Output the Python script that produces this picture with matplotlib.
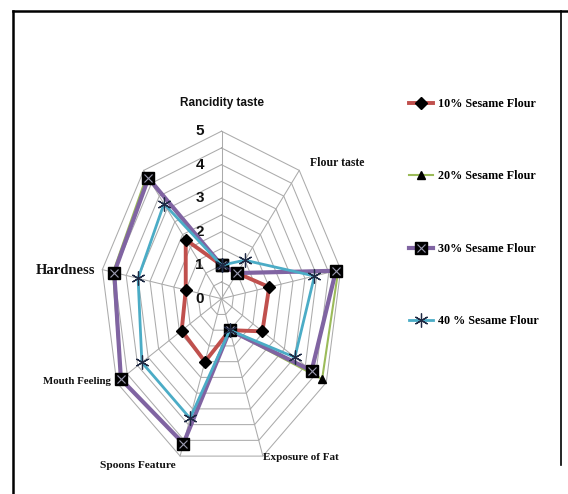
import numpy as np
import matplotlib
matplotlib.use("Agg")
import matplotlib.pyplot as plt
from matplotlib.lines import Line2D
from matplotlib.transforms import offset_copy

# nine sensory attributes, clockwise from the top (three lost their labels in the source)
attributes = ["Rancidity taste", "Flour taste", "", "", "Exposure of Fat",
              "Spoons Feature", "Mouth Feeling", "Hardness", ""]
series_names = ["10% Sesame Flour", "20% Sesame Flour", "30% Sesame Flour", "40 % Sesame Flour"]
s10 = [1.0, 1.0, 2.0, 1.95, 1.0, 2.0, 1.9, 1.5, 2.3]
s20 = [1.0, 1.0, 4.9, 4.8, 1.0, 4.6, 4.8, 4.55, 4.8]
s30 = [1.0, 1.0, 4.8, 4.3, 1.0, 4.6, 4.8, 4.5, 4.7]
s40 = [1.0, 1.5, 3.9, 3.5, 1.0, 3.8, 3.8, 3.5, 3.7]
tick_values = [0, 1, 2, 3, 4, 5]

W, H = 568, 494
RED, GREEN, PURPLE, CYAN = "#C0504D", "#9BBB59", "#8064A2", "#4BACC6"
SERIF = "Liberation Serif"

fig = plt.figure(figsize=(W / 100, H / 100), dpi=100)
# radar centre ~(221.5, 298.7) px; chart is squashed horizontally in the source
cx, cy, rx, ry = 221.5, 298.7, 121, 167.5
ax = fig.add_axes([(cx - rx) / W, 1 - (cy + ry) / H, 2 * rx / W, 2 * ry / H], projection="polar")
ax.set_theta_zero_location("N")
ax.set_theta_direction(-1)
ax.set_aspect("auto")
ax.set_ylim(0, 5)
ax.grid(False)
ax.spines["polar"].set_visible(False)
ax.set_xticks([]); ax.set_yticks([])
ax.patch.set_alpha(0)

n = len(attributes)
theta = np.arange(n) * 2 * np.pi / n
closed = lambda v: np.append(v, v[0])

# polygonal grid (every 0.5) + spokes
for r in np.arange(0.5, 5.01, 0.5):
    ax.plot(closed(theta), [r] * (n + 1), color="#ABABAB", lw=0.75, zorder=1, clip_on=False)
for t in theta:
    ax.plot([t, t], [0, 5], color="#ABABAB", lw=0.75, zorder=1, clip_on=False)

l10, = ax.plot(closed(theta), closed(s10), color=RED, lw=2.8, marker="D", ms=6,
               mfc="black", mec="black", zorder=3, clip_on=False)
l20, = ax.plot(closed(theta), closed(s20), color=GREEN, lw=1.5, marker="^", ms=6,
               mfc="black", mec="black", zorder=3, clip_on=False)
l30, = ax.plot(closed(theta), closed(s30), color=PURPLE, lw=3.0, marker="s", ms=8,
               mfc="black", mec="black", zorder=4, clip_on=False)
x30, = ax.plot(theta, s30, ls="", marker="x", ms=6, mew=0.8, color="#9A9AB0", zorder=5, clip_on=False)
l40, = ax.plot(closed(theta), closed(s40), color=CYAN, lw=2.0, marker=(6, 2, 0), ms=10,
               mew=0.9, mec="#1F2A44", zorder=5, clip_on=False)

# value labels along the top spoke
tr = offset_copy(ax.transData, fig=fig, x=-22, y=0, units="dots")
for v in tick_values:
    ax.text(0, v, str(v), transform=tr, ha="center", va="center", fontsize=11,
            fontweight="bold", family="Liberation Sans", color="#111111")

# category labels (pixel positions from the reference)
lab_pos = {"Rancidity taste": (222, 103, "center", 8.5, "Liberation Sans"),
           "Flour taste": (310, 163, "left", 8.5, SERIF),
           "Exposure of Fat": (263, 457, "left", 8, SERIF),
           "Spoons Feature": (176, 465, "right", 8.2, SERIF),
           "Mouth Feeling": (111, 382, "right", 7.8, SERIF),
           "Hardness": (95, 271, "right", 10.5, SERIF)}
for name in attributes:
    if name in lab_pos:
        x, y, ha, fs, fam = lab_pos[name]
        fig.text(x / W, 1 - y / H, name, ha=ha, va="center", fontsize=fs,
                 fontweight="bold", family=fam, color="#111111")

leg = fig.legend([l10, l20, (l30, x30), l40], series_names, loc="upper left",
                 bbox_to_anchor=(409 / W, 1 - 98 / H), frameon=False,
                 prop={"family": SERIF, "weight": "bold", "size": 8.7},
                 labelspacing=5.0, handlelength=2.0, handletextpad=0.4,
                 borderpad=0, borderaxespad=0)

# frame around the picture
fig.add_artist(Line2D([13 / W, 1], [1 - 11 / H, 1 - 11 / H], color="black", lw=1.8))
fig.add_artist(Line2D([13 / W, 13 / W], [0, 1 - 11 / H], color="black", lw=1.8))
fig.add_artist(Line2D([561 / W, 561 / W], [1 - 465 / H, 1 - 11 / H], color="black", lw=1.2))

fig.savefig("out.png", dpi=100)
